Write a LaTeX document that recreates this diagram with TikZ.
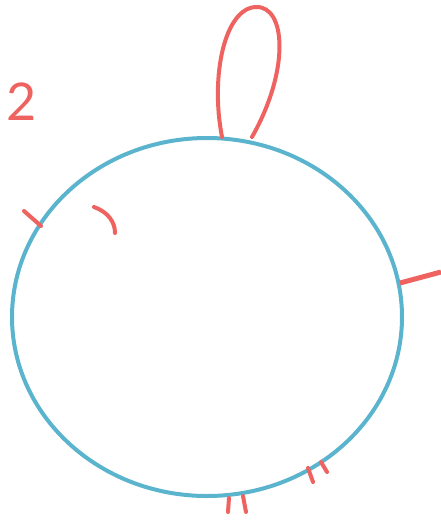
\documentclass[tikz,border=0pt]{standalone}
\usepackage{fontspec}
\setmainfont{Lato}
\definecolor{ringblue}{HTML}{5BB4CD}
\definecolor{markred}{HTML}{EE625F}
\tikzset{
  ring/.style={draw=ringblue, line width=4pt},
  mark stroke/.style={draw=markred, line width=4pt, line cap=round},
}
\begin{document}
\begin{tikzpicture}[x=1pt, y=-1pt]
	\useasboundingbox (0,0) rectangle (441,522);
	\coordinate (c) at (207,317);
	\draw[ring] (c) ellipse [x radius=195, y radius=179];
	\draw[mark stroke] (222,137) .. controls (210,75) and (225,8) .. (256,7) .. controls (286,6) and (290,70) .. (252,137);
	\draw[mark stroke] (24,211) -- (41,226);
	\draw[mark stroke] (94,207) .. controls (108,212) and (115,222) .. (115,233);
	\draw[mark stroke, line cap=butt, line width=5pt] (400,283) -- (441,272);
	\draw[mark stroke] (229,498) -- (228,512);
	\draw[mark stroke] (243,496) -- (246,512);
	\draw[mark stroke] (308,468) -- (313,482);
	\draw[mark stroke] (321,462) -- (327,472);
	\node[text=markred, font=\fontsize{52}{52}\selectfont, inner sep=0pt] (lbl) at (22,102) {2};
\end{tikzpicture}
\end{document}
